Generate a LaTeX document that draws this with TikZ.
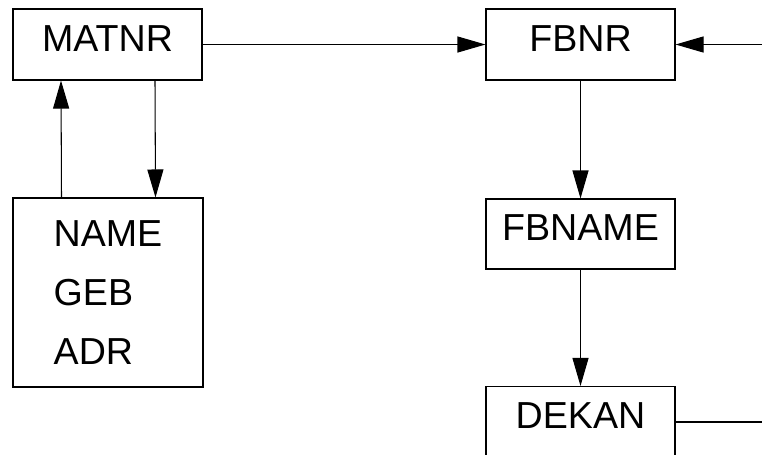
\documentclass[tikz,border=0pt]{standalone}
\usepackage{fontspec}
\setmainfont{Liberation Sans}
\usetikzlibrary{arrows.meta, positioning}
\tikzset{
    entity/.style={rectangle, draw, line width=0.6pt, align=center, minimum width=3.78cm, minimum height=1.42cm, text depth=0.24cm, font=\fontsize{21.4pt}{33.6pt}\selectfont},
    arrow/.style={line width=0.6pt, -{Triangle[length=0.56cm, width=0.32cm]}},
    link/.style={line width=0.6pt}
}

\begin{document}
\begin{tikzpicture}[attrbox/.style={rectangle, draw, line width=0.6pt, align=left, minimum width=3.8cm, minimum height=3.78cm, font=\fontsize{21.4pt}{33.6pt}\selectfont}]
        \useasboundingbox (0,0) rectangle (15.24,-9.08);

        \node (MATNR) [entity] at (2.15, -0.89) {MATNR};
        \node (FBNR) [entity] at (11.61, -0.89) {FBNR};
        \node (Attrs) [attrbox] at (2.16, -5.85) {NAME\\GEB\\ADR};
        \node (FBNAME) [entity, minimum height=1.4cm] at (11.61, -4.68) {FBNAME};
        \node (DEKAN) [entity] at (11.61, -8.44) {DEKAN};

        \coordinate (FBNR_in) at (15.24, -0.89);
        \coordinate (DEKAN_out) at (15.24, -8.44);

        % Key links
        \draw[arrow] (MATNR) -- (FBNR);
        \draw[arrow] (FBNR_in) -- (FBNR);
        \draw[link] (DEKAN) -- (DEKAN_out);

        % MATNR and its attributes
        \draw[arrow] ([xshift=-0.93cm]Attrs.north) -- ([xshift=-0.93cm]MATNR.south);
        \draw[arrow] ([xshift=0.95cm]MATNR.south) -- ([xshift=0.95cm]Attrs.north);

        % Flow down
        \draw[arrow] (FBNR) -- (FBNAME);
        \draw[arrow] (FBNAME) -- (DEKAN);

    \end{tikzpicture}
\end{document}
